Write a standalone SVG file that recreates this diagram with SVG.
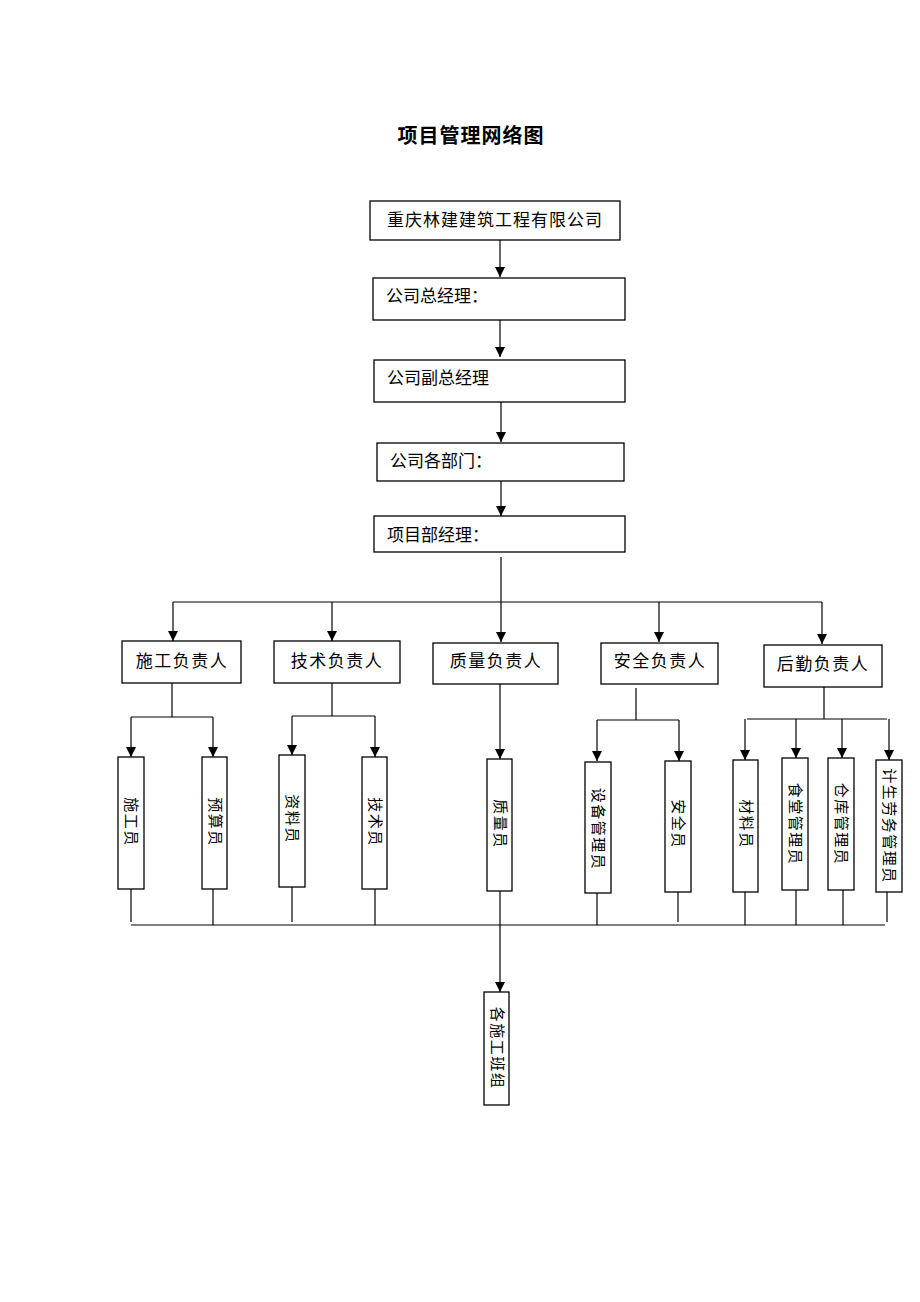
<svg xmlns="http://www.w3.org/2000/svg" width="920" height="1302" viewBox="0 0 920 1302">
<style>
.box{fill:#fff;stroke:#000;stroke-width:1.3}
.t{font-family:"Liberation Serif","Noto Sans CJK SC",serif;font-size:17px;fill:#000}
.tv{font-family:"Liberation Serif","Noto Sans CJK SC",serif;font-size:15px;fill:#000;text-anchor:middle;dominant-baseline:central;letter-spacing:1.5px}
.c{text-anchor:middle;dominant-baseline:central}
.ln{stroke:#000;stroke-width:1.2;fill:none}
.ar{stroke:#000;stroke-width:1.2;fill:none;marker-end:url(#ah)}
</style>
<defs>
<marker id="ah" viewBox="0 0 10 10" refX="10" refY="5" markerWidth="10" markerHeight="10" markerUnits="userSpaceOnUse" orient="auto">
<path d="M0,0 L10,5 L0,10 Z" fill="#000"/>
</marker>
</defs>
<rect width="920" height="1302" fill="#fff"/>
<text x="471" y="136" class="t c" style="font-size:20px;font-weight:bold;letter-spacing:1px">项目管理网络图</text>

<g id="connectors">
<line class="ar" x1="500" y1="240" x2="500" y2="277"/>
<line class="ar" x1="500" y1="320" x2="500" y2="357"/>
<line class="ar" x1="501" y1="402" x2="501" y2="442"/>
<line class="ar" x1="501" y1="481" x2="501" y2="516"/>
<line class="ln" x1="501" y1="557" x2="501" y2="602"/>
<line class="ln" x1="173" y1="602" x2="822" y2="602"/>
<line class="ar" x1="173" y1="602" x2="173" y2="641"/>
<line class="ar" x1="332" y1="602" x2="332" y2="641"/>
<line class="ar" x1="501" y1="602" x2="501" y2="642"/>
<line class="ar" x1="659" y1="602" x2="659" y2="642"/>
<line class="ar" x1="822" y1="602" x2="822" y2="644"/>

<line class="ln" x1="172" y1="683" x2="172" y2="717"/>
<line class="ln" x1="131" y1="717" x2="213" y2="717"/>
<line class="ar" x1="131" y1="717" x2="131" y2="757"/>
<line class="ar" x1="213" y1="717" x2="213" y2="757"/>

<line class="ln" x1="332" y1="683" x2="332" y2="716"/>
<line class="ln" x1="292" y1="716" x2="375" y2="716"/>
<line class="ar" x1="292" y1="716" x2="292" y2="755"/>
<line class="ar" x1="375" y1="716" x2="375" y2="757"/>

<line class="ar" x1="500" y1="684" x2="500" y2="759"/>

<line class="ln" x1="636" y1="688" x2="636" y2="720"/>
<line class="ln" x1="597" y1="720" x2="679" y2="720"/>
<line class="ar" x1="597" y1="720" x2="597" y2="761"/>
<line class="ar" x1="679" y1="720" x2="679" y2="761"/>

<line class="ln" x1="824" y1="687" x2="824" y2="719"/>
<line class="ln" x1="747" y1="719" x2="887" y2="719"/>
<line class="ar" x1="745" y1="719" x2="745" y2="760"/>
<line class="ar" x1="796" y1="719" x2="796" y2="758"/>
<line class="ar" x1="842" y1="719" x2="842" y2="758"/>
<line class="ar" x1="889" y1="719" x2="889" y2="760"/>

<line class="ln" x1="131" y1="889" x2="131" y2="922"/>
<line class="ln" x1="213" y1="889" x2="213" y2="925"/>
<line class="ln" x1="292" y1="887" x2="292" y2="922"/>
<line class="ln" x1="375" y1="889" x2="375" y2="925"/>
<line class="ln" x1="597" y1="893" x2="597" y2="925"/>
<line class="ln" x1="678" y1="892" x2="678" y2="922"/>
<line class="ln" x1="745" y1="892" x2="745" y2="925"/>
<line class="ln" x1="796" y1="890" x2="796" y2="925"/>
<line class="ln" x1="843" y1="890" x2="843" y2="925"/>
<line class="ln" x1="887" y1="892" x2="887" y2="922"/>
<line class="ln" x1="131" y1="925" x2="885" y2="925"/>
<line class="ar" x1="500" y1="891" x2="500" y2="992"/>
</g>

<g id="n-company"><rect class="box" x="370" y="201" width="250" height="39"/><text class="t c" x="495" y="220" style="letter-spacing:1px">重庆林建建筑工程有限公司</text></g>
<g id="n-gm"><rect class="box" x="373" y="278" width="252" height="42"/><text class="t" x="386" y="302">公司总经理：</text></g>
<g id="n-dgm"><rect class="box" x="374" y="360" width="251" height="42"/><text class="t" x="387" y="384">公司副总经理</text></g>
<g id="n-dept"><rect class="box" x="377" y="443" width="247" height="38"/><text class="t" x="390" y="467">公司各部门：</text></g>
<g id="n-pm"><rect class="box" x="374" y="516" width="251" height="36"/><text class="t" x="387" y="541">项目部经理：</text></g>

<g id="n-sg"><rect class="box" x="122" y="641" width="119" height="42"/><text class="t c" x="182" y="661" style="letter-spacing:1.5px">施工负责人</text></g>
<g id="n-js"><rect class="box" x="274" y="641" width="126" height="42"/><text class="t c" x="337" y="661" style="letter-spacing:1.5px">技术负责人</text></g>
<g id="n-zl"><rect class="box" x="433" y="643" width="125" height="41"/><text class="t c" x="496" y="661" style="letter-spacing:1.5px">质量负责人</text></g>
<g id="n-aq"><rect class="box" x="601" y="643" width="117" height="41"/><text class="t c" x="660" y="661" style="letter-spacing:1.5px">安全负责人</text></g>
<g id="n-hq"><rect class="box" x="764" y="645" width="118" height="42"/><text class="t c" x="823" y="664" style="letter-spacing:1.5px">后勤负责人</text></g>

<g id="n-sgy"><rect class="box" x="118" y="757" width="26" height="132"/><text class="tv" transform="translate(131,822) rotate(90)">施工员</text></g>
<g id="n-ysy"><rect class="box" x="202" y="757" width="25" height="132"/><text class="tv" transform="translate(214.5,822) rotate(90)">预算员</text></g>
<g id="n-zly"><rect class="box" x="279" y="755" width="26" height="132"/><text class="tv" transform="translate(292,819) rotate(90)">资料员</text></g>
<g id="n-jsy"><rect class="box" x="362" y="757" width="25" height="132"/><text class="tv" transform="translate(374.5,822) rotate(90)">技术员</text></g>
<g id="n-zly2"><rect class="box" x="487" y="759" width="25" height="132"/><text class="tv" transform="translate(499.5,824) rotate(90)">质量员</text></g>
<g id="n-sb"><rect class="box" x="585" y="762" width="26" height="131"/><text class="tv" transform="translate(598,829) rotate(90)">设备管理员</text></g>
<g id="n-aqy"><rect class="box" x="665" y="761" width="26" height="131"/><text class="tv" transform="translate(678,824) rotate(90)">安全员</text></g>
<g id="n-cly"><rect class="box" x="733" y="760" width="25" height="132"/><text class="tv" transform="translate(745.5,824) rotate(90)">材料员</text></g>
<g id="n-st"><rect class="box" x="782" y="758" width="26" height="132"/><text class="tv" transform="translate(795,824) rotate(90)">食堂管理员</text></g>
<g id="n-ck"><rect class="box" x="828" y="758" width="26" height="132"/><text class="tv" transform="translate(841,824) rotate(90)">仓库管理员</text></g>
<g id="n-js2"><rect class="box" x="876" y="760" width="26" height="132"/><text class="tv" transform="translate(889,826) rotate(90)">计生劳务管理员</text></g>

<g id="n-bz"><rect class="box" x="484" y="992" width="25" height="113"/><text class="tv" transform="translate(496.5,1048) rotate(90)">各施工班组</text></g>
</svg>
